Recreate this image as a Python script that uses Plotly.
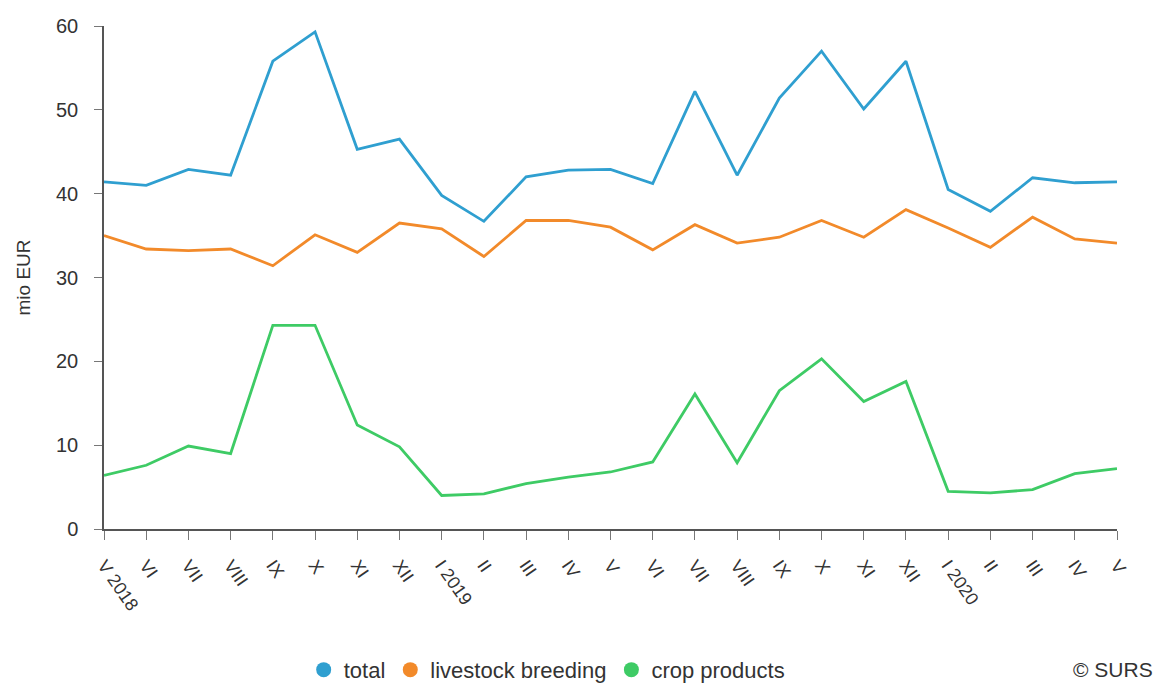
import plotly.graph_objects as go

months = ["V 2018", "VI", "VII", "VIII", "IX", "X", "XI", "XII", "I 2019", "II", "III", "IV",
          "V", "VI", "VII", "VIII", "IX", "X", "XI", "XII", "I 2020", "II", "III", "IV", "V"]

total = [41.4, 41.0, 42.9, 42.2, 55.8, 59.3, 45.3, 46.5, 39.8, 36.7, 42.0, 42.8,
         42.9, 41.2, 52.2, 42.2, 51.4, 57.0, 50.1, 55.8, 40.5, 37.9, 41.9, 41.3, 41.4]
livestock = [35.0, 33.4, 33.2, 33.4, 31.4, 35.1, 33.0, 36.5, 35.8, 32.5, 36.8, 36.8,
             36.0, 33.3, 36.3, 34.1, 34.8, 36.8, 34.8, 38.1, 35.9, 33.6, 37.2, 34.6, 34.1]
crop = [6.4, 7.6, 9.9, 9.0, 24.3, 24.3, 12.4, 9.8, 4.0, 4.2, 5.4, 6.2,
        6.8, 8.0, 16.1, 7.9, 16.5, 20.3, 15.2, 17.6, 4.5, 4.3, 4.7, 6.6, 7.2]

names = ["total", "livestock breeding", "crop products"]
colors = ["#2f9fd0", "#f28a2a", "#3ecb65"]
series = [total, livestock, crop]

x = list(range(len(months)))

fig = go.Figure()
for name, col, vals in zip(names, colors, series):
    fig.add_trace(go.Scatter(x=x, y=vals, mode="lines", name=name,
                             line=dict(color=col, width=2.8),
                             showlegend=False, hoverinfo="x+y"))
for name, col in zip(names, colors):
    fig.add_trace(go.Scatter(x=[None], y=[None], mode="markers", name=name,
                             marker=dict(color=col, size=15, symbol="circle")))

fig.update_layout(
    width=1154, height=676,
    paper_bgcolor="white", plot_bgcolor="white",
    margin=dict(l=96, r=45, t=18, b=155, autoexpand=False),
    font=dict(family="Liberation Sans, Arial, sans-serif", size=20, color="#333333"),
    legend=dict(orientation="h", x=0.437, xanchor="center", y=-0.28, yanchor="middle",
                font=dict(size=22, color="#333333"), itemsizing="trace",
                bgcolor="rgba(0,0,0,0)"),
    annotations=[dict(text="© SURS", x=1.0375, y=-0.28, xref="paper", yref="paper",
                      xanchor="right", yanchor="middle", showarrow=False,
                      font=dict(size=21, color="#333333"))],
)
fig.update_xaxes(
    range=[0, len(months) - 1], tickmode="array", tickvals=x, ticktext=months,
    tickangle=55, showgrid=False, zeroline=False,
    showline=True, linecolor="#555555", linewidth=1.5,
    ticks="outside", ticklen=9, tickcolor="#777777",
    tickfont=dict(size=18, color="#333333"),
    ticklabelstandoff=8,
)
fig.update_yaxes(
    range=[0, 60], tickvals=[0, 10, 20, 30, 40, 50, 60], showgrid=False, zeroline=False,
    showline=True, linecolor="#555555", linewidth=1.5,
    ticks="outside", ticklen=8, tickcolor="#777777",
    tickfont=dict(size=20, color="#333333"),
    ticklabelstandoff=12,
    title=dict(text="mio EUR", font=dict(size=19, color="#333333"), standoff=20),
)

fig.write_html("out.html")
